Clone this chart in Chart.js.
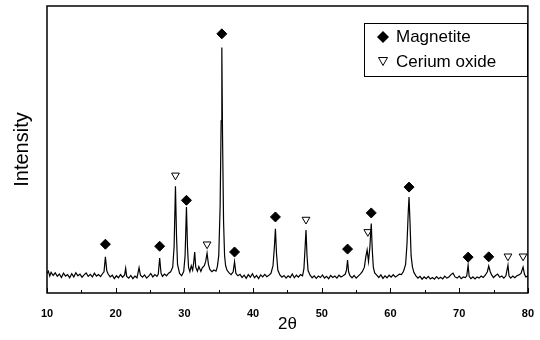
<!DOCTYPE html>
<html>
<head>
<meta charset="utf-8">
<script src="https://cdn.jsdelivr.net/npm/chart.js@4/dist/chart.umd.min.js"></script>
<style>
  body { margin: 0; background: #fff; }
  #wrap { width: 540px; height: 340px; }
</style>
</head>
<body>
<div id="wrap"><canvas id="xrd" width="540" height="340"></canvas></div>
<script>
// XRD pattern: [2theta, intensity (arb.)]
const pattern = [
  [10.0, 6.8], [10.2, 7.6], [10.4, 5.9], [10.6, 7.2], [10.9, 6.1], [11.2, 7.0], [11.5, 5.8], [11.8, 6.6],
  [12.1, 5.4], [12.4, 6.9], [12.7, 5.9], [13.0, 6.4], [13.3, 5.3], [13.6, 6.7], [13.9, 5.6], [14.2, 7.1],
  [14.5, 6.0], [14.8, 6.6], [15.1, 5.5], [15.4, 6.3], [15.7, 7.0], [16.0, 5.8], [16.3, 6.5], [16.6, 5.6],
  [16.9, 6.9], [17.2, 5.9], [17.5, 6.4], [17.8, 5.7], [18.1, 6.8], [18.3, 7.4], [18.5, 12.6], [18.7, 7.8],
  [18.9, 6.6], [19.2, 5.6], [19.5, 6.2], [19.8, 5.0], [20.1, 6.0], [20.4, 5.3], [20.7, 6.4], [21.0, 5.5],
  [21.3, 6.3], [21.45, 8.6], [21.6, 5.8], [21.9, 5.2], [22.2, 6.1], [22.5, 5.0], [22.8, 5.9], [23.1, 5.3],
  [23.4, 8.8], [23.6, 6.2], [23.9, 5.5], [24.2, 6.3], [24.5, 5.2], [24.8, 5.9], [25.1, 6.8], [25.4, 5.6],
  [25.7, 6.4], [26.0, 5.8], [26.2, 6.6], [26.4, 12.2], [26.6, 6.9], [26.8, 5.8], [27.1, 6.6], [27.4, 6.0],
  [27.7, 6.9], [28.0, 7.4], [28.3, 9.0], [28.5, 16.0], [28.7, 37.2], [28.85, 20.0], [29.0, 10.0], [29.3, 6.8],
  [29.6, 6.0], [29.9, 7.5], [30.1, 13.0], [30.3, 30.0], [30.45, 16.0], [30.6, 9.0], [30.8, 7.4], [31.0, 9.5],
  [31.2, 8.0], [31.35, 10.5], [31.5, 14.3], [31.65, 9.0], [31.9, 7.6], [32.1, 9.2], [32.4, 7.5], [32.6, 8.8],
  [32.9, 9.5], [33.1, 11.0], [33.3, 13.9], [33.5, 10.0], [33.7, 8.2], [34.0, 7.4], [34.3, 8.0], [34.6, 7.6],
  [34.8, 9.2], [35.0, 13.0], [35.2, 30.0], [35.35, 60.0], [35.45, 85.5], [35.55, 55.0], [35.7, 25.0], [35.85, 13.0],
  [36.0, 9.5], [36.2, 8.0], [36.5, 7.0], [36.8, 6.4], [37.1, 7.4], [37.3, 10.9], [37.5, 6.8], [37.8, 6.0],
  [38.1, 6.5], [38.4, 5.4], [38.7, 6.2], [39.0, 5.1], [39.3, 6.4], [39.6, 5.5], [39.9, 6.7], [40.2, 5.3],
  [40.5, 6.1], [40.8, 5.0], [41.1, 6.3], [41.4, 5.6], [41.7, 6.5], [42.0, 5.7], [42.3, 6.2], [42.6, 6.8],
  [42.9, 9.5], [43.1, 16.0], [43.25, 22.4], [43.4, 14.0], [43.6, 8.0], [43.9, 6.3], [44.2, 5.5], [44.5, 6.1],
  [44.8, 5.2], [45.1, 6.0], [45.4, 5.4], [45.7, 6.6], [46.0, 5.3], [46.3, 6.2], [46.6, 5.5], [46.9, 6.4],
  [47.2, 6.0], [47.4, 8.5], [47.55, 15.0], [47.7, 21.9], [47.85, 13.0], [48.0, 7.8], [48.3, 6.2], [48.6, 5.3],
  [48.9, 6.0], [49.2, 5.1], [49.5, 5.9], [49.8, 5.4], [50.1, 6.3], [50.4, 5.2], [50.7, 5.8], [51.0, 5.0],
  [51.3, 6.1], [51.6, 5.4], [51.9, 5.9], [52.2, 5.2], [52.5, 6.2], [52.8, 5.6], [53.1, 6.0], [53.4, 6.5],
  [53.6, 8.0], [53.75, 11.5], [53.9, 7.4], [54.1, 6.0], [54.4, 5.3], [54.7, 6.1], [55.0, 5.2], [55.3, 5.9],
  [55.6, 6.6], [55.9, 7.4], [56.2, 9.0], [56.4, 12.5], [56.6, 15.0], [56.8, 11.0], [57.0, 16.0], [57.2, 24.2],
  [57.35, 15.0], [57.5, 9.0], [57.7, 7.0], [58.0, 6.2], [58.3, 5.4], [58.6, 6.3], [58.9, 5.1], [59.2, 6.0],
  [59.5, 5.3], [59.8, 6.2], [60.1, 5.5], [60.4, 6.4], [60.7, 5.6], [61.0, 6.0], [61.3, 6.6], [61.6, 6.4],
  [61.9, 7.6], [62.2, 10.0], [62.4, 17.0], [62.6, 29.0], [62.7, 33.4], [62.85, 24.0], [63.0, 13.0], [63.2, 9.0],
  [63.4, 7.2], [63.7, 6.0], [64.0, 5.2], [64.3, 5.8], [64.6, 4.8], [64.9, 5.6], [65.2, 5.0], [65.5, 5.8],
  [65.8, 4.9], [66.1, 5.4], [66.4, 4.8], [66.7, 5.7], [67.0, 5.0], [67.3, 5.5], [67.6, 4.9], [67.9, 5.9],
  [68.2, 5.2], [68.5, 5.6], [68.8, 6.4], [69.1, 6.9], [69.4, 5.6], [69.7, 5.2], [70.0, 5.9], [70.3, 5.0],
  [70.6, 5.6], [70.9, 5.4], [71.1, 6.0], [71.3, 9.7], [71.45, 5.8], [71.7, 5.0], [72.0, 5.6], [72.3, 4.9],
  [72.6, 5.6], [72.9, 5.2], [73.2, 5.9], [73.5, 5.4], [73.8, 6.2], [74.1, 7.4], [74.3, 9.4], [74.5, 7.6],
  [74.7, 6.4], [75.0, 5.4], [75.3, 6.1], [75.6, 6.6], [75.9, 5.5], [76.2, 5.9], [76.5, 5.2], [76.8, 6.0],
  [77.1, 9.7], [77.25, 6.0], [77.5, 5.2], [77.8, 5.9], [78.1, 5.3], [78.4, 6.0], [78.7, 6.3], [79.0, 6.8],
  [79.3, 9.0], [79.5, 6.6], [79.7, 5.6], [80.0, 5.9]
];

// phase markers placed above the peaks
const magnetitePos = [18.5, 26.4, 30.3, 35.45, 37.3, 43.25, 53.75, 57.2, 62.7, 71.3, 74.3];
const magnetiteMark = [17.0, 16.3, 32.3, 90.3, 14.3, 26.5, 15.3, 27.9, 36.9, 12.5, 12.6];
const ceriumPos = [28.7, 33.3, 47.7, 56.7, 77.1, 79.3];
const ceriumMark = [41.0, 17.0, 25.6, 21.3, 12.8, 12.8];

const xTicks = [10, 20, 30, 40, 50, 60, 70, 80];
const xMinor = [15, 25, 35, 45, 55, 65, 75];

const FONT = "'Liberation Sans', Arial, sans-serif";

// box frame + inward ticks
const framePlugin = {
    id: 'frame',
    afterDraw(chart) {
        const { ctx, chartArea: a } = chart;
        const xs = chart.scales.x;
        ctx.save();
        ctx.strokeStyle = '#000';
        ctx.lineWidth = 1.5;
        ctx.strokeRect(a.left, a.top, a.right - a.left, a.bottom - a.top);
        ctx.lineWidth = 1;
        ctx.beginPath();
        xTicks.forEach(v => {
            const px = Math.round(xs.getPixelForValue(v)) + 0.5;
            ctx.moveTo(px, a.bottom);
            ctx.lineTo(px, a.bottom - 5);
        });
        xMinor.forEach(v => {
            const px = Math.round(xs.getPixelForValue(v)) + 0.5;
            ctx.moveTo(px, a.bottom);
            ctx.lineTo(px, a.bottom - 3);
        });
        ctx.stroke();
        ctx.restore();
    }
};

// legend box in the top-right corner
const boxLegend = {
    id: 'boxLegend',
    afterDraw(chart) {
        const { ctx } = chart;
        const ds = chart.data.datasets;
        ctx.save();
        ctx.strokeStyle = '#000';
        ctx.lineWidth = 1;
        ctx.fillStyle = '#fff';
        ctx.fillRect(364, 23, 163, 53);
        ctx.strokeRect(364.5, 23.5, 163, 53);

        // diamond
        ctx.fillStyle = '#000';
        ctx.beginPath();
        ctx.moveTo(383, 31); ctx.lineTo(389, 37); ctx.lineTo(383, 43); ctx.lineTo(377, 37);
        ctx.closePath();
        ctx.fill();

        // open down triangle
        ctx.beginPath();
        ctx.moveTo(378.5, 57.5); ctx.lineTo(387.5, 57.5); ctx.lineTo(383, 65.5);
        ctx.closePath();
        ctx.stroke();

        ctx.fillStyle = '#000';
        ctx.font = '17px ' + FONT;
        ctx.textBaseline = 'middle';
        ctx.fillText(ds[1].label, 396, 37);
        ctx.fillText(ds[2].label, 396, 62);
        ctx.restore();
    }
};

const ctx = document.getElementById('xrd').getContext('2d');
new Chart(ctx, {
    type: 'scatter',
    data: {
        datasets: [
            {
                label: 'pattern',
                data: pattern.map(p => ({ x: p[0], y: p[1] })),
                showLine: true,
                borderColor: '#000',
                borderWidth: 1.2,
                pointRadius: 0,
                tension: 0
            },
            {
                label: 'Magnetite',
                data: magnetitePos.map((x, i) => ({ x: x, y: magnetiteMark[i] })),
                pointStyle: 'rectRot',
                pointRadius: 5,
                backgroundColor: '#000',
                borderColor: '#000',
                borderWidth: 1
            },
            {
                label: 'Cerium oxide',
                data: ceriumPos.map((x, i) => ({ x: x, y: ceriumMark[i] })),
                pointStyle: 'triangle',
                rotation: 180,
                pointRadius: 4.5,
                backgroundColor: '#fff',
                borderColor: '#000',
                borderWidth: 1
            }
        ]
    },
    options: {
        responsive: false,
        animation: false,
        layout: { padding: { top: 5, right: 11, left: 0, bottom: 0 } },
        plugins: {
            legend: { display: false },
            tooltip: { enabled: false }
        },
        scales: {
            x: {
                type: 'linear',
                min: 10,
                max: 80,
                afterFit: axis => { axis.height = 47; },
                afterBuildTicks: axis => { axis.ticks = xTicks.map(v => ({ value: v })); },
                grid: { display: false },
                border: { display: false },
                ticks: {
                    color: '#000',
                    padding: 6,
                    font: { family: FONT, size: 11, weight: 'bold' }
                },
                title: {
                    display: true,
                    text: '2θ',
                    color: '#000',
                    padding: { top: 0, bottom: 5 },
                    font: { family: FONT, size: 17 }
                }
            },
            y: {
                min: 0,
                max: 100,
                afterFit: axis => { axis.width = 47; },
                grid: { display: false },
                border: { display: false },
                ticks: { display: false },
                title: {
                    display: true,
                    text: 'Intensity',
                    color: '#000',
                    padding: { top: 10, bottom: 0 },
                    font: { family: FONT, size: 20 }
                }
            }
        }
    },
    plugins: [framePlugin, boxLegend]
});
</script>
</body>
</html>
